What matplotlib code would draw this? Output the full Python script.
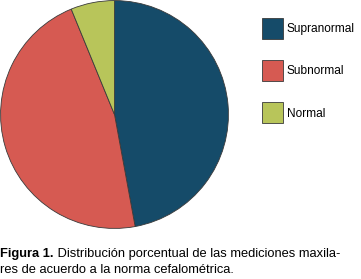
import matplotlib
matplotlib.use('Agg')
import matplotlib.pyplot as plt

# data (percent)
labels = ['Supranormal', 'Subnormal', 'Normal']
values = [47.1, 46.7, 6.2]
colors = ['#154b69', '#d65a52', '#b8c55a']

plt.rcParams['font.family'] = ['Liberation Sans', 'DejaVu Sans']

fig = plt.figure(figsize=(3.61, 2.79), dpi=100)

ax = fig.add_axes([0.0, 50 / 279, 229 / 361, 229 / 279])
wedges, _ = ax.pie(values, colors=colors, startangle=90, counterclock=False,
                   wedgeprops=dict(edgecolor='#3a3a3a', linewidth=0.6))
ax.set_xlim(-1.005, 1.005)
ax.set_ylim(-1.005, 1.005)
ax.set_aspect('equal')
ax.axis('off')

lfs = 8.6
fig.legend(wedges, labels, loc='upper left', bbox_to_anchor=(262 / 361, 1 - 18 / 279),
           frameon=False, fontsize=lfs, borderpad=0, borderaxespad=0,
           handlelength=1.76, handleheight=2.33, handletextpad=0.33, labelspacing=1.77)

# caption: bold part then regular part
fs = 9.3
y1 = 1 - 257 / 279
y2 = 1 - 273 / 279
t = fig.text(0.0, y1, 'Figura 1.', fontsize=fs, fontweight='bold', va='baseline')
r = fig.canvas.get_renderer()
w = t.get_window_extent(r).width / fig.bbox.width
fig.text(w, y1, ' Distribución porcentual de las mediciones maxila-', fontsize=fs, va='baseline')
fig.text(0.0, y2, 'res de acuerdo a la norma cefalométrica.', fontsize=fs, va='baseline')

plt.savefig('out.png', dpi=100)
